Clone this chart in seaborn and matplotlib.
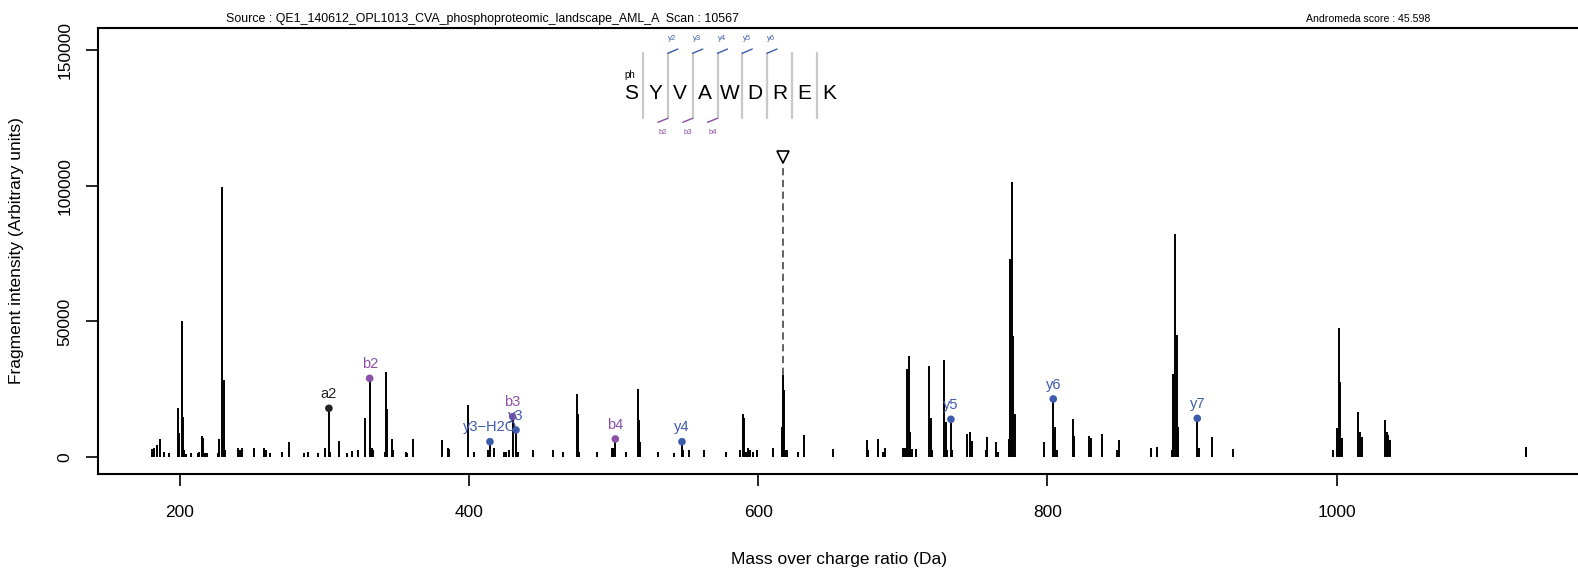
import numpy as np
import matplotlib
matplotlib.use("Agg")
import matplotlib.pyplot as plt
from matplotlib.lines import Line2D
import seaborn as sns

# spectrum peaks (m/z, intensity)
mz = [180.8, 182.2, 183.9, 186.2, 188.9, 192.4, 198.8, 199.5, 201.2, 202.3,
      203.0, 204.0, 207.4, 212.2, 213.3, 215.0, 216.1, 217.2, 218.6, 226.5,
      227.2, 229.3, 230.4, 231.3, 239.9, 241.2, 242.8, 251.4, 258.1, 259.5,
      262.5, 270.3, 275.4, 286.0, 288.3, 295.2, 300.3, 303.0, 303.9, 310.2,
      315.3, 319.2, 323.4, 328.0, 331.2, 332.6, 333.7, 341.8, 342.3, 343.2,
      346.4, 347.3, 356.1, 356.8, 361.1, 381.0, 385.1, 386.0, 399.0, 403.5,
      413.2, 414.4, 417.2, 424.1, 425.5, 427.3, 430.1, 432.4, 433.5, 444.4,
      458.2, 464.6, 474.3, 475.2, 476.1, 488.2, 498.6, 499.3, 501.1, 508.5,
      516.8, 517.5, 518.2, 530.8, 541.7, 547.2, 548.1, 552.3, 562.4, 577.6,
      587.3, 589.2, 590.1, 591.5, 593.1, 594.2, 596.1, 599.3, 610.3, 616.2,
      616.8, 617.5, 618.3, 619.5, 627.6, 631.6, 651.4, 675.3, 676.0, 683.0,
      686.4, 687.5, 700.2, 701.3, 703.0, 704.2, 705.1, 706.5, 709.0, 718.2,
      719.1, 720.3, 728.6, 729.5, 730.6, 733.2, 734.1, 744.5, 746.2, 747.5,
      757.3, 758.4, 764.4, 765.9, 773.3, 774.0, 775.2, 776.0, 777.2, 797.8,
      804.0, 805.2, 806.4, 817.4, 818.5, 828.7, 829.9, 837.9, 847.9, 849.2,
      871.3, 875.4, 886.3, 887.0, 888.2, 889.3, 890.5, 903.6, 904.7, 913.5,
      928.5, 997.2, 1000.2, 1001.6, 1002.3, 1003.5, 1014.9, 1016.0, 1017.2, 1033.4,
      1034.5, 1035.7, 1036.8, 1130.7, 1131.2]
intensity = [2950, 3200, 4400, 6500, 2000, 1400, 17950, 8700, 50260, 14630,
             2580, 1200, 1600, 1600, 2000, 7740, 6900, 1600, 1400, 1600,
             6500, 99400, 28400, 2500, 3200, 2600, 3200, 3200, 3500, 2500,
             1400, 2000, 5650, 1600, 2000, 1400, 3200, 17950, 2000, 6000,
             1600, 2100, 2500, 14250, 29000, 3500, 2500, 2000, 31450, 17600,
             6500, 2500, 2000, 1600, 6500, 6100, 3200, 2800, 19200, 2000,
             2600, 5650, 3300, 2000, 2000, 2600, 14900, 9950, 2000, 2600,
             2600, 2000, 23200, 15850, 2000, 2000, 3300, 3300, 6640, 2000,
             24950, 13600, 5600, 2000, 1600, 5650, 2600, 2600, 2600, 2000,
             2600, 15850, 14250, 2000, 3300, 2600, 2000, 2600, 3300, 11200,
             30230, 24700, 2600, 2600, 2000, 8100, 2900, 6270, 2600, 6500,
             1950, 3200, 3200, 3200, 32300, 37200, 9300, 2800, 2800, 33500,
             14250, 2500, 35800, 13000, 2500, 13900, 2500, 8500, 9300, 6000,
             2500, 7500, 5650, 2000, 6500, 72900, 101500, 44700, 15850, 5650,
             21400, 10950, 2500, 13900, 7900, 7600, 7000, 8500, 2500, 6100,
             3400, 3700, 2500, 30600, 82200, 44850, 11200, 14250, 3500, 7500,
             2800, 2600, 10600, 47450, 27770, 7000, 16500, 9300, 7500, 13650,
             9300, 8000, 6100, 3600, 2800]

# matched fragment ions
ion_labels = ["a2", "b2", "y3\u2212H2O", "b3", "y3", "b4", "y4", "y5", "y6", "y7"]
ion_mz = [303.0, 331.2, 414.4, 430.1, 432.4, 501.1, 547.2, 733.2, 804.0, 903.6]
ion_type = ["a", "b", "y", "b", "y", "b", "y", "y", "y", "y"]

precursor_mz = 617.3
precursor_marker = 110700

sequence = ["S", "Y", "V", "A", "W", "D", "R", "E", "K"]
y_ion_names = ["y2", "y3", "y4", "y5", "y6"]
b_ion_names = ["b2", "b3", "b4"]

source_text = "Source : QE1_140612_OPL1013_CVA_phosphoproteomic_landscape_AML_A  Scan : 10567"
score_text = "Andromeda score : 45.598"

ion_colors = {"a": "#222222", "b": "#8b4fa6", "y": "#3d5bab"}

sns.set_style("ticks", {"axes.edgecolor": "black", "xtick.color": "black",
                        "ytick.color": "black", "text.color": "black",
                        "axes.labelcolor": "black"})
plt.rcParams['font.family'] = ['Liberation Sans', 'DejaVu Sans']

W, H = 1578, 569
fig = plt.figure(figsize=(W / 100, H / 100), dpi=100)
ax = fig.add_axes([98 / W, 1 - 473.5 / H, (1581 - 98) / W, (473.5 - 28.2) / H])


def fpos(px, py):
    # pixel position (from top-left) to figure fraction
    return px / W, 1 - py / H


# peaks
ax.vlines(mz, 0, intensity, color="black", lw=1.4, zorder=2)

# matched ions
mz_arr = np.array(mz)
int_arr = np.array(intensity)
ion_int = [int_arr[np.argmin(np.abs(mz_arr - m))] for m in ion_mz]
sns.scatterplot(x=ion_mz, y=ion_int, hue=ion_type, palette=ion_colors,
                s=30, linewidth=0, legend=False, ax=ax, zorder=3)
for lab, m, v, t in zip(ion_labels, ion_mz, ion_int, ion_type):
    ax.annotate(lab, (m, v), xytext=(0, 7.5), textcoords="offset points",
                ha="center", va="baseline", fontsize=10.5, color=ion_colors[t])

# precursor
ax.vlines(precursor_mz, 0, precursor_marker - 1800, color="#555555", lw=1.3,
          linestyles=(0, (4, 2.5)), zorder=1)
ax.plot([precursor_mz], [precursor_marker], marker="v", ms=9, mfc="white",
        mec="black", mew=1.2, zorder=4)

ax.set_xlim(143.3, 1169)
ax.set_ylim(-6080, 158080)
ax.set_xticks([200, 400, 600, 800, 1000])
ax.set_yticks([0, 50000, 100000, 150000])
ax.set_yticklabels(["0", "50000", "100000", "150000"], rotation=90, va="center")
ax.tick_params(axis="both", labelsize=12.5, length=8.5, width=1.2)
ax.tick_params(axis="x", pad=14)
ax.tick_params(axis="y", pad=10)
for s in ["left", "bottom", "top", "right"]:
    ax.spines[s].set_linewidth(1.5)

ax.set_xlabel("Mass over charge ratio (Da)", fontsize=12.5, labelpad=23)
ax.set_ylabel("Fragment intensity (Arbitrary units)", fontsize=12.5, labelpad=24)

# header
x, y = fpos(482, 19)
fig.text(x, y, source_text, ha="center", va="center", fontsize=8.9)
x, y = fpos(1368, 19)
fig.text(x, y, score_text, ha="center", va="center", fontsize=7.6)

# peptide sequence with fragment ladders
x0, step = 630.7, 24.8
for i, aa in enumerate(sequence):
    x, y = fpos(x0 + i * step, 93.3)
    fig.text(x, y, aa, ha="center", va="center", fontsize=15)
x, y = fpos(629.5, 75)
fig.text(x, y, "ph", ha="center", va="center", fontsize=7)
seps = [x0 + (i + 0.5) * step for i in range(len(sequence) - 1)]
for sx in seps:
    fig.add_artist(Line2D(*zip(fpos(sx, 52.7), fpos(sx, 118.3)),
                          color="#c8c8c8", lw=1.6, transform=fig.transFigure))
for k, name in enumerate(y_ion_names):
    sx = seps[k + 1]
    fig.add_artist(Line2D(*zip(fpos(sx, 53.3), fpos(sx + 10, 49)),
                          color=ion_colors["y"], lw=1.0, transform=fig.transFigure))
    x, y = fpos(sx + 4.4, 39)
    fig.text(x, y, name, ha="center", va="center", fontsize=5.5, color=ion_colors["y"])
for k, name in enumerate(b_ion_names):
    sx = seps[k + 1]
    fig.add_artist(Line2D(*zip(fpos(sx - 10, 122.3), fpos(sx, 118.3)),
                          color=ion_colors["b"], lw=1.0, transform=fig.transFigure))
    x, y = fpos(sx - 5, 132.3)
    fig.text(x, y, name, ha="center", va="center", fontsize=5.5, color=ion_colors["b"])

fig.savefig("out.png", dpi=100)
